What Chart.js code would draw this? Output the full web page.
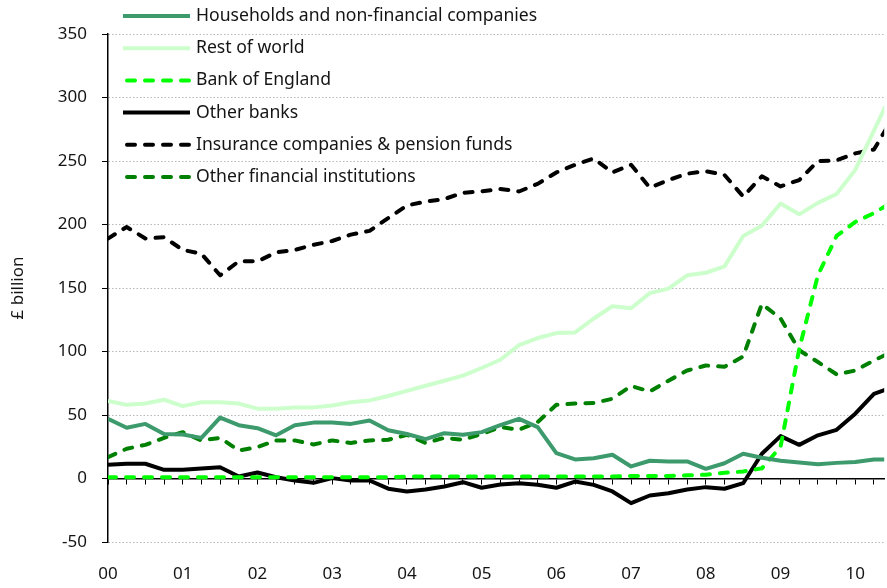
<!DOCTYPE html>
<html>
<head>
<meta charset="utf-8">
<script src="https://cdn.jsdelivr.net/npm/chart.js@4.4.0/dist/chart.umd.min.js"></script>
<style>
  html, body { margin: 0; padding: 0; background: #fff; }
  #wrap { width: 887px; height: 588px; position: relative; }
</style>
</head>
<body>
<div id="wrap"><canvas id="myChart"></canvas></div>
<script>
// quarterly stocks, 2000 Q1 onwards (£ billion)
const yearLabels = ['00', '01', '02', '03', '04', '05', '06', '07', '08', '09', '10'];
const seriesNames = [
    'Households and non-financial companies',
    'Rest of world',
    'Bank of England',
    'Other banks',
    'Insurance companies & pension funds',
    'Other financial institutions'
];

const households = [47, 40, 43, 35, 34.7, 32, 48, 42, 39.6, 34, 42, 44, 44, 43, 45.7, 38, 35, 31, 35.7, 34.4,
    36.5, 42, 47, 40.5, 20, 15, 16, 18.7, 9.5, 14, 13.4, 13.4, 7.6, 12, 19.5, 16.3, 14, 12.6, 11.3, 12.3, 13, 15, 15];
const restOfWorld = [61, 58, 59, 62, 57, 60, 60, 59, 55, 55, 56, 56, 57.5, 60, 61.5, 65, 69, 73, 77, 81,
    87, 93.5, 105, 110.6, 114.5, 115, 126, 135.6, 134, 146, 149.5, 160, 162, 167, 191, 199, 216.5, 208, 217, 224, 243, 274, 305];
const bankOfEngland = [1, 1, 1, 1, 1, 1, 1, 1, 1, 1, 1, 1, 1, 1, 1, 1, 1.5, 1.5, 1.5, 1.5,
    1.5, 1.5, 1.5, 1.5, 1.5, 1.5, 1.5, 1.5, 2, 2, 2, 2.5, 3, 4.5, 5.5, 8, 25, 102, 160, 191, 202, 209, 218];
const otherBanks = [10.8, 11.6, 11.6, 6.8, 6.8, 7.9, 8.9, 1.6, 4.7, 1, -1.6, -3.4, 0.3, -1.6, -1.6, -8, -10.2, -8.7, -6.3, -2.9,
    -7.3, -4.7, -3.7, -5, -7.3, -2.4, -5, -10.2, -19.4, -13.4, -11.6, -8.7, -6.8, -8.1, -3.7, 19.5, 33.4, 26.5, 34, 38.3, 51, 66.7, 72];
const insurance = [189, 198, 189, 190, 180, 177, 160, 171, 171, 178, 180, 184, 187, 192, 195, 205, 215, 218, 220, 225,
    226, 228, 226, 232, 241, 247, 252, 241, 247, 229, 235, 240, 242, 239, 222, 238, 230, 235, 250, 250.5, 256, 259, 284];
const otherFinancial = [16.8, 23.4, 26.5, 32, 36.5, 30, 32, 22, 24.7, 30, 30, 26.8, 30, 28, 30, 30.5, 34.4, 28, 32, 30.5,
    35, 40.5, 38.4, 44.4, 58, 59, 59.4, 62.8, 72.8, 68.6, 77, 85, 89, 88, 96, 137.5, 126, 101, 91.7, 82, 85, 93, 100];

const yMin = -50, yMax = 350, yStep = 50;
const xMax = 10.387; // axis stops part way through 2010

const font = { family: '"Noto Sans", sans-serif', size: 17 };
const legendFont = '17.6px "Noto Sans", sans-serif';
const textColor = '#141414';

// quarter index -> position in years since 2000
function toPoints(arr) {
    return arr.map((v, i) => ({ x: i / 4, y: v }));
}

const dash = [8, 10];
const datasets = [
    { label: seriesNames[0], data: toPoints(households), borderColor: '#3d9a6c', borderWidth: 4 },
    { label: seriesNames[1], data: toPoints(restOfWorld), borderColor: '#ccffcc', borderWidth: 4 },
    { label: seriesNames[2], data: toPoints(bankOfEngland), borderColor: '#00ff00', borderWidth: 4, borderDash: dash, borderCapStyle: 'round' },
    { label: seriesNames[3], data: toPoints(otherBanks), borderColor: '#000000', borderWidth: 4 },
    { label: seriesNames[4], data: toPoints(insurance), borderColor: '#000000', borderWidth: 4, borderDash: dash, borderCapStyle: 'round' },
    { label: seriesNames[5], data: toPoints(otherFinancial), borderColor: '#008000', borderWidth: 4, borderDash: dash, borderCapStyle: 'round' }
];
datasets.forEach(d => {
    d.pointRadius = 0;
    d.tension = 0;
    d.fill = false;
    d.borderJoinStyle = 'round';
});

// legend sits inside the plot, top left
const insideLegend = {
    id: 'insideLegend',
    afterDraw(chart) {
        const ctx = chart.ctx;
        chart.data.datasets.forEach((ds, i) => {
            const y = 16 + i * 32.2;
            ctx.save();
            ctx.strokeStyle = ds.borderColor;
            ctx.lineWidth = ds.borderWidth;
            ctx.lineCap = ds.borderCapStyle || 'butt';
            ctx.setLineDash(ds.borderDash || []);
            ctx.beginPath();
            ctx.moveTo(ds.borderDash ? 127 : 123, y);
            ctx.lineTo(190, y);
            ctx.stroke();
            ctx.fillStyle = textColor;
            ctx.font = legendFont;
            ctx.textBaseline = 'middle';
            ctx.fillText(ds.label, 196, y);
            ctx.restore();
        });
    }
};

const ctx = document.getElementById('myChart').getContext('2d');
const chart = new Chart(ctx, {
    type: 'line',
    data: { datasets: datasets },
    plugins: [insideLegend],
    options: {
        responsive: true,
        maintainAspectRatio: false,
        animation: false,
        layout: { padding: { top: 34, right: 0, left: 0, bottom: 0 } },
        plugins: {
            legend: { display: false },
            tooltip: { enabled: false }
        },
        scales: {
            x: {
                type: 'linear',
                min: 0,
                max: xMax,
                position: 'bottom',
                grid: { display: false, drawTicks: false },
                border: { display: false },
                afterBuildTicks: s => { s.ticks = s.ticks.filter(t => Number.isInteger(t.value)); },
                afterFit: s => { s.height = 46; },
                ticks: {
                    stepSize: 1,
                    includeBounds: false,
                    autoSkip: false,
                    maxRotation: 0,
                    padding: 22,
                    font: font,
                    color: textColor,
                    callback: v => yearLabels[v]
                }
            },
            xq: {
                type: 'linear',
                axis: 'x',
                min: 0,
                max: xMax,
                position: { y: 0 },
                grid: { drawOnChartArea: false, drawTicks: true, tickLength: 5, tickColor: '#000', tickWidth: 1 },
                border: { display: true, color: '#000', width: 1.5 },
                afterBuildTicks: s => { s.ticks = s.ticks.filter(t => Math.abs(t.value * 4 - Math.round(t.value * 4)) < 1e-6); },
                ticks: { display: false, stepSize: 0.25, includeBounds: false, autoSkip: false }
            },
            y: {
                min: yMin,
                max: yMax,
                afterFit: s => { s.width = 108; },
                grid: {
                    color: c => c.tick && c.tick.value === 0 ? 'rgba(0,0,0,0)' : '#b8b8b8',
                    lineWidth: 1,
                    drawTicks: true,
                    tickLength: 6,
                    tickColor: '#000',
                    tickBorderDash: [],
                    tickWidth: 1
                },
                border: { display: true, color: '#000', width: 1.5, dash: [1.5, 2] },
                ticks: { stepSize: yStep, padding: 15, font: font, color: textColor },
                title: { display: true, text: '£ billion', font: font, color: textColor, padding: { top: 8, bottom: 0 } }
            }
        }
    }
});
</script>
</body>
</html>
